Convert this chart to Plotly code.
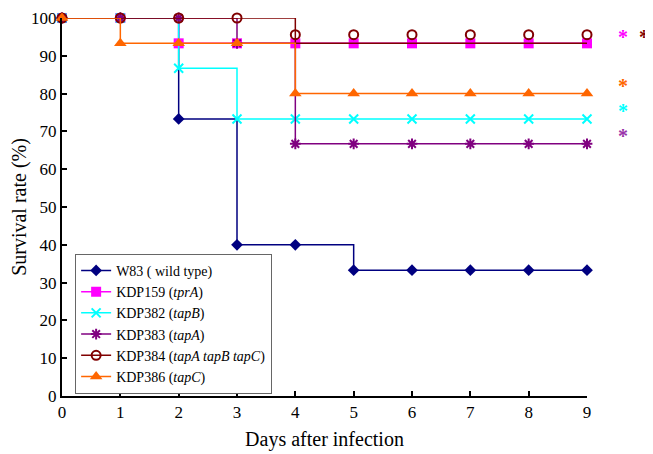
import plotly.graph_objects as go

days = [0, 1, 2, 3, 4, 5, 6, 7, 8, 9]
w83 = [100, 100, 73.3, 40, 40, 33.3, 33.3, 33.3, 33.3, 33.3]
kdp159 = [100, 100, 93.3, 93.3, 93.3, 93.3, 93.3, 93.3, 93.3, 93.3]
kdp382 = [100, 100, 86.7, 73.3, 73.3, 73.3, 73.3, 73.3, 73.3, 73.3]
kdp383 = [100, 100, 100, 93.3, 66.7, 66.7, 66.7, 66.7, 66.7, 66.7]
kdp384 = [100, 100, 100, 100, 93.3, 93.3, 93.3, 93.3, 93.3, 93.3]
kdp384_markers = [100, 100, 100, 100, 95.6, 95.6, 95.6, 95.6, 95.6, 95.6]
kdp386 = [100, 93.3, 93.3, 93.3, 80, 80, 80, 80, 80, 80]

names = ["W83 ( wild type)", "KDP159 (<i>tprA</i>)", "KDP382 (<i>tapB</i>)",
         "KDP383 (<i>tapA</i>)", "KDP384 (<i>tapA tapB tapC</i>)", "KDP386 (<i>tapC</i>)"]
colors = ["#000080", "#FF00FF", "#00FFFF", "#800080", "#800000", "#FF6600"]
symbols = ["diamond", "square", "x-thin-open", "asterisk-open", "circle-open", "triangle-up"]
sizes = [9, 10, 9, 9, 9, 11]

# significance asterisks (positions in data units)
star_x = [9.62, 9.62, 9.62, 9.62, 9.97]
star_y = [95.5, 82.5, 76.0, 69.3, 95.5]
star_colors = ["#FF00FF", "#FF6600", "#00FFFF", "#9933AA", "#800000"]

X_RANGE = [0, 9]
Y_RANGE = [0, 100]

fig = go.Figure()

def add(vals, i, marker_vals=None):
    mk = dict(symbol=symbols[i], color=colors[i], size=sizes[i],
              line=dict(color=colors[i], width=2 if i in (2, 3, 4) else 0))
    if marker_vals is None:
        fig.add_trace(go.Scatter(x=days, y=vals, mode="lines+markers", name=names[i],
                                 line=dict(color=colors[i], width=1.5, shape="hv"),
                                 marker=mk, cliponaxis=False))
    else:
        fig.add_trace(go.Scatter(x=days, y=vals, mode="lines", showlegend=False,
                                 line=dict(color=colors[i], width=1.5, shape="hv"),
                                 cliponaxis=False))
        gx, gy = [], []
        for d, v in zip(days, marker_vals):
            gx += [d, None]
            gy += [v, None]
        fig.add_trace(go.Scatter(x=gx, y=gy, mode="lines+markers", name=names[i],
                                 connectgaps=False,
                                 line=dict(color=colors[i], width=1.5),
                                 marker=mk, cliponaxis=False))

add(w83, 0)
add(kdp159, 1)
add(kdp382, 2)
add(kdp383, 3)
add(kdp384, 4, kdp384_markers)
add(kdp386, 5)

for sx, sy, sc in zip(star_x, star_y, star_colors):
    fig.add_annotation(x=(sx - X_RANGE[0]) / (X_RANGE[1] - X_RANGE[0]),
                       y=(sy - Y_RANGE[0]) / (Y_RANGE[1] - Y_RANGE[0]),
                       text="<b>*</b>", showarrow=False, xanchor="center", yanchor="middle",
                       font=dict(size=20, color=sc, family="Liberation Serif"),
                       xref="paper", yref="paper", yshift=-2, borderpad=0)

fig.update_layout(
    width=653, height=454,
    margin=dict(l=54, r=74, t=10, b=66),
    plot_bgcolor="white", paper_bgcolor="white",
    font=dict(family="Liberation Serif", size=17, color="black"),
    showlegend=True,
    legend=dict(x=0.025, y=0.376, xanchor="left", yanchor="top",
                bordercolor="#666666", borderwidth=1, bgcolor="white",
                font=dict(size=14), tracegroupgap=0),
    xaxis=dict(range=X_RANGE, tickmode="array", tickvals=days, ticks="inside",
               ticklen=5, tickwidth=1.5, tickcolor="black", automargin=False,
               showline=True, linecolor="black", linewidth=2, showgrid=False,
               zeroline=False, title=dict(text="Days after infection", standoff=11)),
    yaxis=dict(range=Y_RANGE, tickmode="array", tickvals=list(range(0, 101, 10)),
               ticks="inside", ticklen=5, tickwidth=1.5, tickcolor="black", automargin=False,
               showline=True, linecolor="black", linewidth=2, showgrid=False,
               zeroline=False, title=dict(text="Survival rate (%)", standoff=4)),
)

fig.write_html("out.html")
